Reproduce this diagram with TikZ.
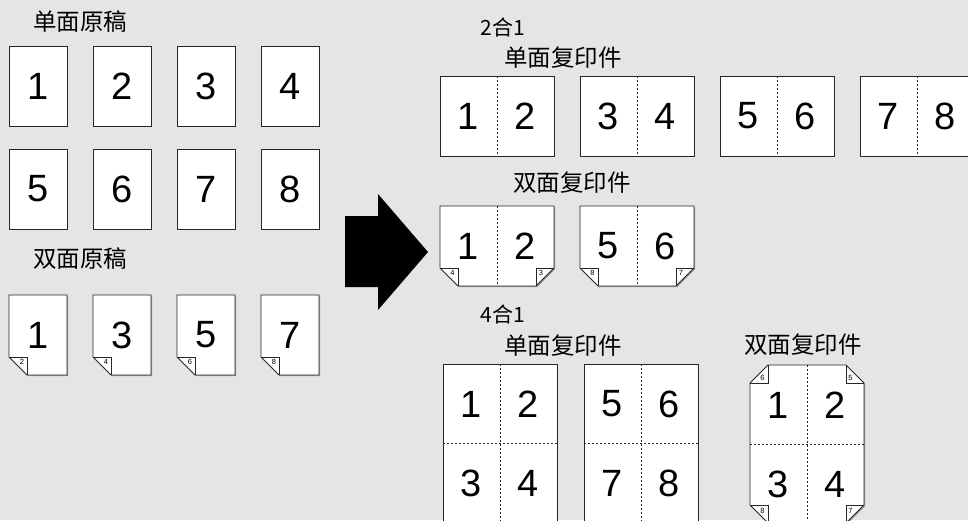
\documentclass[tikz,border=0pt]{standalone}
\usepackage{fontspec}
\setmainfont{Liberation Sans}
\newfontfamily\cjk{Noto Sans CJK SC}
\usepackage{tikz}

\begin{document}
\begin{tikzpicture}[x=1pt, y=-1pt,
    page/.style={fill=white, draw=black!85, line width=0.8pt},
    shade/.style={fill=black!40, xshift=1.2pt, yshift=-1.2pt},
    flap/.style={draw=black!85, line width=0.5pt},
    fold/.style={black!85, line width=0.6pt, dash pattern=on 2.4pt off 1.6pt},
    digit/.style={font=\fontsize{38}{38}\selectfont},
    tiny/.style={font=\fontsize{7.5}{7.5}\selectfont, inner sep=0pt},
    lbl/.style={font=\cjk\fontsize{23.5}{23.5}\selectfont, inner sep=0pt},
    sublbl/.style={lbl, font=\cjk\fontsize{21}{21}\selectfont}]
\useasboundingbox (0,0) rectangle (968,520);
\fill[black!10] (0,0) rectangle (968,520);
\clip (0,0) rectangle (968,520);

\node[lbl] (simplexsrc) at (80,22) {单面原稿};
\foreach \n/\x/\y in {1/9/46,2/93/46,3/177/46,4/261/46,5/9/149,6/93/149,7/177/149,8/261/149} {
    \fill[shade] (\x,\y) rectangle ++(58,80);
    \draw[page] (\x,\y) rectangle ++(58,80);
    \node[digit] (orig\n) at (\x+29,\y+40) {\n};
}

\node[lbl] (duplexsrc) at (80,259) {双面原稿};
\foreach \n/\b/\x in {1/2/9,3/4/93,5/6/177,7/8/261} {
    \fill[shade] (\x,295) -- ++(58,0) -- ++(0,80) -- ++(-40,0) -- ++(-18,-18) -- cycle;
    \draw[page] (\x,295) -- ++(58,0) -- ++(0,80) -- ++(-40,0) -- ++(-18,-18) -- cycle;
    \draw[flap] (\x,357) -- ++(18,0) -- ++(0,18);
    \node[digit] (dorig\n) at (\x+29,335) {\n};
    \node[tiny] (dback\b) at (\x+13,361.5) {\b};
}

\fill[black] (345,216) -- (378,216) -- (378,194) -- (428,252) -- (378,310) -- (378,287) -- (345,287) -- cycle;

\node[sublbl] (twoup) at (503,27) {2合1};
\node[lbl] (twoupsimplex) at (563,58) {单面复印件};
\foreach \a/\b/\x in {1/2/440,3/4/580,5/6/720,7/8/860} {
    \fill[shade] (\x,76) rectangle ++(114,80);
    \draw[page] (\x,76) rectangle ++(114,80);
    \draw[fold] (\x+57,76) -- ++(0,80);
    \node[digit] (ts\a) at (\x+28.5,116) {\a};
    \node[digit] (ts\b) at (\x+85.5,116) {\b};
}

\node[lbl] (twoupduplex) at (572,183) {双面复印件};
\foreach \a/\b/\c/\d/\x in {1/2/4/3/440,5/6/8/7/580} {
    \fill[shade] (\x,206) -- ++(114,0) -- ++(0,62) -- ++(-18,18) -- ++(-78,0) -- ++(-18,-18) -- cycle;
    \draw[page] (\x,206) -- ++(114,0) -- ++(0,62) -- ++(-18,18) -- ++(-78,0) -- ++(-18,-18) -- cycle;
    \draw[flap] (\x,268) -- ++(18,0) -- ++(0,18);
    \draw[flap] (\x+114,268) -- ++(-18,0) -- ++(0,18);
    \draw[fold] (\x+57,206) -- ++(0,80);
    \node[digit] (td\a) at (\x+28.5,246) {\a};
    \node[digit] (td\b) at (\x+85.5,246) {\b};
    \node[tiny] (tdback\c) at (\x+12.5,273) {\c};
    \node[tiny] (tdback\d) at (\x+101,273) {\d};
}

\node[sublbl] (fourup) at (503,314) {4合1};
\node[lbl] (fourupsimplex) at (563,346) {单面复印件};
\foreach \a/\b/\c/\d/\x in {1/2/3/4/443,5/6/7/8/584} {
    \fill[shade] (\x,364) rectangle ++(114,158);
    \draw[page] (\x,364) rectangle ++(114,158);
    \draw[fold] (\x+57,364) -- ++(0,158);
    \draw[fold] (\x,443) -- ++(114,0);
    \node[digit] (fs\a) at (\x+28.5,404) {\a};
    \node[digit] (fs\b) at (\x+85.5,404) {\b};
    \node[digit] (fs\c) at (\x+28.5,483) {\c};
    \node[digit] (fs\d) at (\x+85.5,483) {\d};
}

\node[lbl] (fourupduplex) at (803,345) {双面复印件};
\fill[shade] (768,365) -- (846,365) -- (864,383) -- (864,505) -- (846,523) -- (768,523) -- (750,505) -- (750,383) -- cycle;
\draw[page] (768,365) -- (846,365) -- (864,383) -- (864,505) -- (846,523) -- (768,523) -- (750,505) -- (750,383) -- cycle;
\draw[flap] (750,383) -- (768,383) -- (768,365);
\draw[flap] (864,383) -- (846,383) -- (846,365);
\draw[flap] (750,505) -- (768,505) -- (768,523);
\draw[flap] (864,505) -- (846,505) -- (846,523);
\draw[fold] (807,365) -- (807,523);
\draw[fold] (750,444) -- (864,444);
\node[digit] (fd1) at (778.5,405) {1};
\node[digit] (fd2) at (835.5,405) {2};
\node[digit] (fd3) at (778.5,484) {3};
\node[digit] (fd4) at (835.5,484) {4};
\node[tiny] (fdback6) at (762.5,377.5) {6};
\node[tiny] (fdback5) at (850.5,377.5) {5};
\node[tiny] (fdback8) at (762.5,510.5) {8};
\node[tiny] (fdback7) at (850.5,510.5) {7};
\end{tikzpicture}
\end{document}
